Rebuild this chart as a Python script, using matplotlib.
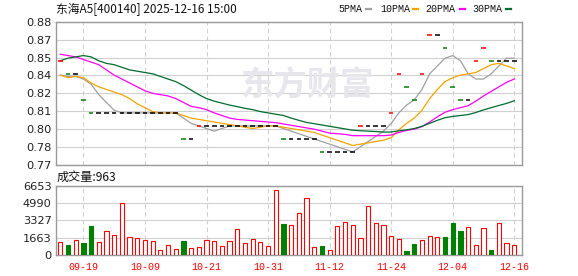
import matplotlib
matplotlib.use('Agg')
import matplotlib.pyplot as plt
from matplotlib.lines import Line2D
import numpy as np

# trading days shown in the window
dates = ['09-16', '09-17', '09-18', '09-19', '09-22', '09-23', '09-24', '09-25', '09-26', '09-29',
         '09-30', '10-09', '10-10', '10-13', '10-14', '10-15', '10-16', '10-17', '10-20', '10-21',
         '10-22', '10-23', '10-24', '10-27', '10-28', '10-29', '10-30', '10-31', '11-03', '11-04',
         '11-05', '11-06', '11-07', '11-10', '11-11', '11-12', '11-13', '11-14', '11-17', '11-18',
         '11-19', '11-20', '11-21', '11-24', '11-25', '11-26', '11-27', '11-28', '12-01', '12-02',
         '12-03', '12-04', '12-05', '12-08', '12-09', '12-10', '12-11', '12-12', '12-15', '12-16']
tick_dates = ['09-19', '10-09', '10-21', '10-31', '11-12', '11-24', '12-04', '12-16']

prev_close = 0.84  # close of the day before the window
close = [0.85, 0.84, 0.84, 0.82, 0.81, 0.81, 0.81, 0.81, 0.81, 0.81,
         0.81, 0.81, 0.81, 0.81, 0.81, 0.81, 0.79, 0.79, 0.80, 0.80,
         0.80, 0.80, 0.80, 0.80, 0.80, 0.80, 0.80, 0.80, 0.80, 0.79,
         0.79, 0.79, 0.79, 0.79, 0.78, 0.78, 0.78, 0.78, 0.78, 0.80,
         0.80, 0.80, 0.80, 0.81, 0.84, 0.83, 0.82, 0.84, 0.87, 0.87,
         0.86, 0.83, 0.82, 0.82, 0.85, 0.86, 0.85, 0.85, 0.85, 0.85]

ma5 = [0.839, 0.838, 0.838, 0.836, 0.832, 0.824, 0.818, 0.812, 0.810, 0.810,
       0.810, 0.810, 0.810, 0.810, 0.810, 0.810, 0.806, 0.802, 0.800, 0.798,
       0.796, 0.798, 0.800, 0.800, 0.800, 0.800, 0.800, 0.800, 0.800, 0.798,
       0.796, 0.794, 0.792, 0.790, 0.788, 0.786, 0.784, 0.782, 0.780, 0.784,
       0.788, 0.792, 0.796, 0.802, 0.810, 0.816, 0.820, 0.828, 0.840, 0.846,
       0.852, 0.854, 0.850, 0.840, 0.836, 0.836, 0.840, 0.846, 0.852, 0.852]
ma10 = [0.839, 0.837, 0.838, 0.837, 0.833, 0.830, 0.828, 0.826, 0.824, 0.821,
        0.817, 0.814, 0.811, 0.810, 0.810, 0.810, 0.808, 0.806, 0.805, 0.804,
        0.803, 0.802, 0.801, 0.800, 0.799, 0.798, 0.799, 0.800, 0.800, 0.799,
        0.798, 0.797, 0.796, 0.795, 0.793, 0.791, 0.789, 0.787, 0.785, 0.786,
        0.787, 0.788, 0.789, 0.791, 0.797, 0.802, 0.806, 0.812, 0.821, 0.828,
        0.834, 0.837, 0.839, 0.840, 0.841, 0.844, 0.847, 0.848, 0.846, 0.844]
ma20 = [0.855, 0.854, 0.853, 0.851, 0.849, 0.847, 0.843, 0.839, 0.836, 0.833,
        0.830, 0.827, 0.825, 0.824, 0.823, 0.821, 0.818, 0.815, 0.814, 0.8125,
        0.810, 0.808, 0.806, 0.805, 0.8045, 0.804, 0.8035, 0.803, 0.8025, 0.8015,
        0.8005, 0.7995, 0.7985, 0.7975, 0.796, 0.7945, 0.794, 0.7935, 0.7925, 0.7925,
        0.7925, 0.7925, 0.7925, 0.793, 0.795, 0.7965, 0.7975, 0.7995, 0.803, 0.807,
        0.8105, 0.8125, 0.814, 0.8155, 0.819, 0.823, 0.8265, 0.830, 0.8335, 0.836]
ma30 = [0.850, 0.852, 0.853, 0.854, 0.853, 0.850, 0.848, 0.847, 0.845, 0.843,
        0.842, 0.841, 0.840, 0.838, 0.836, 0.834, 0.831, 0.8275, 0.824, 0.821,
        0.819, 0.8175, 0.816, 0.8148, 0.8135, 0.8125, 0.811, 0.810, 0.809, 0.808,
        0.806, 0.8043, 0.8027, 0.8017, 0.8007, 0.7997, 0.7987, 0.7977, 0.7967, 0.7963,
        0.796, 0.7957, 0.7953, 0.7953, 0.7963, 0.797, 0.798, 0.7997, 0.802, 0.8043,
        0.8063, 0.8073, 0.808, 0.8087, 0.8103, 0.8123, 0.814, 0.8157, 0.8173, 0.8193]

volume = [1250, 960, 1440, 1180, 2780, 1250, 2300, 1920, 5000, 1690,
          1600, 1440, 1340, 480, 930, 580, 1340, 670, 770, 1440,
          1340, 860, 1340, 2490, 1150, 1530, 1250, 860, 6240, 2970,
          2880, 4030, 5540, 740, 860, 480, 2750, 3230, 2850, 1600,
          4770, 3070, 2850, 1790, 1500, 380, 1060, 1400, 1790, 1690,
          1730, 3070, 2300, 2660, 930, 2560, 480, 3040, 1120, 963]

price_ticks = [0.77, 0.78375, 0.7975, 0.81125, 0.825, 0.83875, 0.8525, 0.86625, 0.88]
price_labels = ['0.77', '0.78', '0.80', '0.81', '0.82', '0.84', '0.85', '0.87', '0.88']
vol_ticks = [0, 1663, 3327, 4990, 6653]

plt.rcParams['font.family'] = ['Noto Sans CJK SC', 'DejaVu Sans']

RED = '#ff0000'
GREEN = '#008000'
GRID = '#d0d0d0'
FRAME = '#9a9a9a'

fig = plt.figure(figsize=(5.78, 2.76), dpi=100)
ax = fig.add_axes([56 / 578, 1 - 165 / 276, 466 / 578, 143.3 / 276])
axv = fig.add_axes([56 / 578, 1 - 255 / 276, 466 / 578, 69 / 276])

x = np.arange(len(dates))
tick_pos = [dates.index(d) for d in tick_dates]

# candle colours: up red, down green, unchanged black
colors = []
last = prev_close
for c in close:
    if c > last:
        colors.append(RED)
    elif c < last:
        colors.append(GREEN)
    else:
        colors.append('black')
    last = c

ax.plot(x, ma5, color='#a0a0a0', lw=0.9, zorder=3)
ax.plot(x, ma10, color='#f5a300', lw=0.9, zorder=3)
ax.plot(x, ma20, color='#ff00ff', lw=0.9, zorder=3)
ax.plot(x, ma30, color='#006b2e', lw=0.9, zorder=3)
ax.hlines(close, x - 0.3, x + 0.3, colors=colors, lw=1.1, zorder=4)

vol_face = ['white' if col != GREEN else GREEN for col in colors]
vol_edge = [GREEN if col == GREEN else RED for col in colors]
axv.bar(x, volume, width=0.55, color=vol_face, edgecolor=vol_edge, lw=0.8, zorder=3)

for a in (ax, axv):
    a.set_xlim(-0.56, 60.0)
    a.set_xticks(tick_pos)
    a.grid(axis='x', color=GRID, ls=(0, (4, 3)), lw=0.8)
    a.grid(axis='y', color=GRID, ls='-', lw=0.8)
    a.tick_params(length=0, labelsize=8.2, labelcolor='#222222')
    for s in a.spines.values():
        s.set_color(FRAME)
        s.set_linewidth(1.0)
    a.set_axisbelow(True)
    for lab in a.get_yticklabels():
        lab.set_family('DejaVu Sans')

ax.set_ylim(0.77, 0.88)
ax.set_yticks(price_ticks)
ax.set_yticklabels(price_labels, family='DejaVu Sans')
ax.tick_params(axis='y', pad=3)
ax.set_xticklabels([])

axv.set_ylim(0, 6653)
axv.set_yticks(vol_ticks)
axv.set_yticklabels([str(v) for v in vol_ticks], family='DejaVu Sans')
axv.tick_params(axis='y', pad=3)
axv.set_xticklabels(tick_dates, family='Liberation Mono', color=RED, fontsize=7.2)
axv.tick_params(axis='x', pad=5)

# watermark
ax.text(0.5376, 0.551, '东方财富', transform=ax.transAxes, ha='center', va='center',
        fontsize=24, fontweight='bold', color='#e6e6ec', zorder=1)

fig.text(56 / 578, 1 - 9 / 276, '东海A5[400140] 2025-12-16 15:00', ha='left', va='center',
         fontsize=8.5, color='#111111')
fig.text(57 / 578, 1 - 177 / 276, '成交量:963', ha='left', va='center',
         fontsize=8.7, color='#111111')

legend = [('5PMA', 338, 366, '#a0a0a0'), ('10PMA', 380, 412.5, '#f5a300'),
          ('20PMA', 425.5, 460, '#ff00ff'), ('30PMA', 472, 505.5, '#006b2e')]
for name, tx, lx, col in legend:
    fig.text(tx / 578, 1 - 9 / 276, name, ha='left', va='center',
             family='Liberation Mono', fontsize=7.2, color='#111111')
    fig.add_artist(Line2D([lx / 578, (lx + 5) / 578], [1 - 9 / 276, 1 - 9 / 276],
                          color=col, lw=1.6, transform=fig.transFigure))

fig.savefig('out.png', dpi=100)
